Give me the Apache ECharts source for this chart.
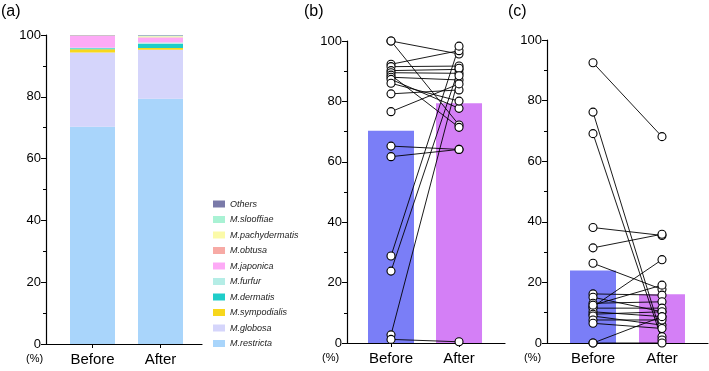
<!DOCTYPE html>
<html>
<head>
<meta charset="utf-8">
<script src="https://cdn.jsdelivr.net/npm/echarts@6/dist/echarts.min.js"></script>
<style>
  html, body { margin: 0; padding: 0; background: #fff; }
  #main { width: 709px; height: 371px; }
</style>
</head>
<body>
<div id="main"></div>
<script>
// categories
var categories = ['Before', 'After'];
var catPos = [1, 2];

// (a) relative abundance, bottom to top of stack
var species = ['M.restricta', 'M.globosa', 'M.sympodialis', 'M.dermatis', 'M.furfur',
    'M.japonica', 'M.obtusa', 'M.pachydermatis', 'M.slooffiae', 'Others'];
var speciesBefore = [70.3, 24.0, 1.1, 0.3, 0.2, 3.8, 0.1, 0.05, 0.05, 0.1];
var speciesAfter  = [79.4, 15.8, 0.6, 1.4, 0.4, 1.6, 0.1, 0.3, 0.2, 0.2];
var speciesColors = ['#a9d5fb', '#d5d5fb', '#f7d71c', '#1fcdc9', '#b5ede6',
    '#fdaaf6', '#f7aaa5', '#fbfaa8', '#a9f2d4', '#7a7aa9'];

// (b) per-subject values, before -> after
var bBefore = [100, 100, 92.3, 91.5, 90.2, 89.5, 88.7, 88.0, 87.3, 86.0, 82.5, 76.6, 65.2, 61.7, 28.8, 23.8, 2.7, 1.2];
var bAfter  = [95.7, 72.2, 96.8, 91.7, 90.6, 89.3, 71.4, 87.1, 77.7, 80.1, 83.8, 85.8, 64.1, 64.1, 98.3, 91.0, 88.5, 0.4];
var bMeans  = [70.3, 79.4];

// (c) per-subject values, before -> after
var cBefore = [92.5, 76.2, 69.1, 38.1, 31.4, 26.3, 16.2, 15.1, 13.1, 12.0, 11.5, 10.3, 9.5, 8.9, 7.6, 6.5, 0, 0, 12.5];
var cAfter  = [68.1, 2.1, 1.0, 35.5, 35.9, 17.7, 15.8, 10.3, 13.6, 27.5, 11.5, 8.7, 10.3, 5.9, 7.6, 4.8, 8.7, 0, 19.1];
var cMeans  = [23.9, 16.1];

var yTicks = [0, 20, 40, 60, 80, 100];
var barColors = ['#7a7ef7', '#d47ff6'];

(function drawChart() {
    var chartDom = document.getElementById('main');
    var myChart = echarts.init(chartDom);
    var font = 'Liberation Sans, Arial, sans-serif';

    var panels = [
        { left: 46, top: 35, width: 156, height: 309, min: 0.316, max: 2.61 },
        { left: 347, top: 41, width: 158, height: 302, min: 0.353, max: 2.676 },
        { left: 547, top: 40, width: 161, height: 303, min: 0.333, max: 2.667 }
    ];

    var grids = [], xAxes = [], yAxes = [];
    panels.forEach(function (p, i) {
        grids.push({ left: p.left, top: p.top, width: p.width, height: p.height });
        xAxes.push({
            gridIndex: i, type: 'value', min: p.min, max: p.max,
            axisLine: { show: true, onZero: false, lineStyle: { color: '#000', width: 1.2 } },
            axisTick: { show: true, customValues: catPos, length: 4, lineStyle: { color: '#000' } },
            axisLabel: {
                customValues: catPos, fontSize: 15, margin: 8, color: '#000', fontFamily: font,
                formatter: function (v) { return categories[Math.round(v) - 1] || ''; }
            },
            splitLine: { show: false }
        });
        yAxes.push({
            gridIndex: i, type: 'value', min: yTicks[0], max: yTicks[yTicks.length - 1], interval: 20,
            axisLine: { show: true, lineStyle: { color: '#000', width: 1.2 } },
            axisTick: { show: true, length: 5, lineStyle: { color: '#000' } },
            minorTick: { show: true, splitNumber: 2, length: 3, lineStyle: { color: '#000' } },
            axisLabel: { fontSize: 13, margin: 5, color: '#000', fontFamily: font },
            splitLine: { show: false }
        });
    });

    // hidden category grid for the stacked bars of (a), bands centred on the ticks
    grids.push({ left: 58.5, top: 35, width: 136, height: 309 });
    xAxes.push({ gridIndex: 3, type: 'category', data: categories, show: false });
    yAxes.push({ gridIndex: 3, type: 'value', min: 0, max: 100, show: false });

    var series = [];
    // (a) stacked bars
    species.forEach(function (name, k) {
        series.push({
            name: name, type: 'bar', stack: 'a', xAxisIndex: 3, yAxisIndex: 3,
            barWidth: 45, itemStyle: { color: speciesColors[k] },
            data: [speciesBefore[k], speciesAfter[k]]
        });
    });

    // (b), (c) mean bars + paired lines
    function addPaired(idx, means, before, after) {
        series.push({
            type: 'bar', xAxisIndex: idx, yAxisIndex: idx, barWidth: 46,
            data: means.map(function (m, j) {
                return { value: [catPos[j], m], itemStyle: { color: barColors[j] } };
            })
        });
        before.forEach(function (b, j) {
            series.push({
                type: 'line', xAxisIndex: idx, yAxisIndex: idx, z: 5,
                symbol: 'circle', symbolSize: 8, showSymbol: true,
                lineStyle: { color: '#000', width: 0.9 },
                itemStyle: { color: '#fff', borderColor: '#000', borderWidth: 1.1 },
                data: [[catPos[0], b], [catPos[1], after[j]]]
            });
        });
    }
    addPaired(1, bMeans, bBefore, bAfter);
    addPaired(2, cMeans, cBefore, cAfter);

    var texts = [
        { x: 1, y: 4, t: '(a)', s: 16 }, { x: 304, y: 4, t: '(b)', s: 16 }, { x: 508, y: 4, t: '(c)', s: 16 },
        { x: 26, y: 353, t: '(%)', s: 11 }, { x: 322, y: 352, t: '(%)', s: 11 }, { x: 524, y: 352, t: '(%)', s: 11 }
    ];

    var option = {
        animation: false,
        textStyle: { fontFamily: font },
        grid: grids,
        xAxis: xAxes,
        yAxis: yAxes,
        legend: {
            data: species.slice().reverse(),
            orient: 'vertical', left: 208, top: 193,
            itemWidth: 12, itemHeight: 7, itemGap: 3.5, icon: 'rect',
            textStyle: { fontSize: 9, fontStyle: 'italic', color: '#222', lineHeight: 12, fontFamily: font }
        },
        graphic: texts.map(function (d) {
            return { type: 'text', left: d.x, top: d.y,
                style: { text: d.t, fontSize: d.s, fill: '#000', font: d.s + 'px ' + font } };
        }),
        series: series
    };
    option && myChart.setOption(option);
})();
</script>
</body>
</html>
